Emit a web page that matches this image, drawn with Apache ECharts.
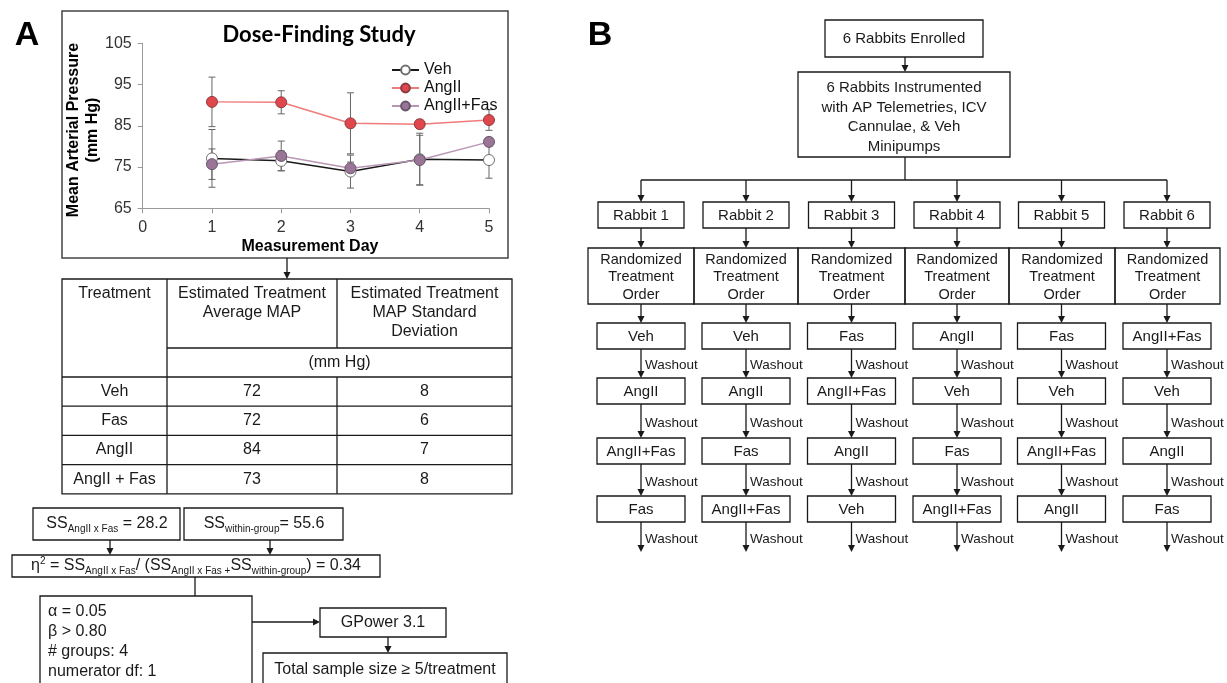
<!DOCTYPE html>
<html><head><meta charset="utf-8">
<script src="https://cdn.jsdelivr.net/npm/echarts/dist/echarts.min.js"></script>
<style>html,body{margin:0;padding:0;background:#fff}#c{width:1227px;height:683px}</style>
</head><body><div id="c"></div>
<script>
// ---------- data ----------
const days = [1, 2, 3, 4, 5];
const xTicks = [0, 1, 2, 3, 4, 5];
const yTicks = [65, 75, 85, 95, 105];
const seriesNames = ['Veh', 'AngII', 'AngII+Fas'];
const vehMean = [77.1, 76.5, 73.9, 76.9, 76.7];
const vehErr  = [7.0, 2.4, 4.0, 6.3, 4.4];
const angMean = [90.8, 90.7, 85.6, 85.4, 86.4];
const angErr  = [6.0, 2.8, 7.4, 1.0, 2.5];
const fasMean = [75.7, 77.7, 74.7, 76.7, 81.1];
const fasErr  = [3.7, 3.6, 1.5, 6.0, 1.0];

const tableTreatments = ['Veh', 'Fas', 'AngII', 'AngII + Fas'];
const tableAvgMAP = [72, 72, 84, 73];
const tableSD = [8, 6, 7, 8];

const rabbitLabels = ['Rabbit 1', 'Rabbit 2', 'Rabbit 3', 'Rabbit 4', 'Rabbit 5', 'Rabbit 6'];
const treatmentOrders = [
  ['Veh', 'AngII', 'AngII+Fas', 'Fas'],
  ['Veh', 'AngII', 'Fas', 'AngII+Fas'],
  ['Fas', 'AngII+Fas', 'AngII', 'Veh'],
  ['AngII', 'Veh', 'Fas', 'AngII+Fas'],
  ['Fas', 'Veh', 'AngII+Fas', 'AngII'],
  ['AngII+Fas', 'Veh', 'AngII', 'Fas']
];
const powerParams = ['\u03b1 = 0.05', '\u03b2 > 0.80', '# groups: 4', 'numerator df: 1'];

// ---------- drawing helpers ----------
const FONT = '"Liberation Sans", Arial, sans-serif';
const INK = '#1a1a1a';
const G = [];
function rect(x, y, w, h, lw) {
  G.push({type: 'rect', silent: true, shape: {x: x, y: y, width: w, height: h},
    style: {fill: 'none', stroke: INK, lineWidth: lw || 1.3}});
}
function line(x1, y1, x2, y2, lw) {
  G.push({type: 'line', silent: true, shape: {x1: x1, y1: y1, x2: x2, y2: y2},
    style: {stroke: INK, lineWidth: lw || 1.3}});
}
function arrowDown(x, y1, y2) {
  line(x, y1, x, y2 - 5);
  G.push({type: 'polygon', silent: true, shape: {points: [[x - 3.5, y2 - 7], [x + 3.5, y2 - 7], [x, y2]]}, style: {fill: INK}});
}
function arrowRight(x1, x2, y) {
  line(x1, y, x2 - 5, y);
  G.push({type: 'polygon', silent: true, shape: {points: [[x2 - 7, y - 3.5], [x2 - 7, y + 3.5], [x2, y]]}, style: {fill: INK}});
}
function txt(x, y, s, o) {
  const st = Object.assign({text: s, fill: INK, fontSize: 16, fontFamily: FONT,
    align: 'center', verticalAlign: 'middle', textAlign: 'center', textVerticalAlign: 'middle'}, o || {});
  G.push({type: 'text', silent: true, x: x, y: y, style: st, z: 10});
}

// ---------- panel letters ----------
txt(27, 36, 'A', {fontSize: 34, fontWeight: 'bold', fill: '#000'});
txt(600, 36, 'B', {fontSize: 34, fontWeight: 'bold', fill: '#000'});

// ---------- Panel A chart frame & texts ----------
G.push({type: 'rect', silent: true, shape: {x: 62, y: 11, width: 446, height: 247},
  style: {fill: 'none', stroke: '#444', lineWidth: 1.5}});
txt(319, 35, 'Dose-Finding Study', {fontSize: 22, fontWeight: 'bold', fontFamily: 'Lato, "Liberation Sans", sans-serif', fill: '#000'});
txt(74, 130, 'Mean Arterial Pressure', {fontSize: 16, fontWeight: 'bold', fill: '#000'});
G[G.length - 1].rotation = Math.PI / 2;
txt(93, 130, '(mm Hg)', {fontSize: 16, fontWeight: 'bold', fill: '#000'});
G[G.length - 1].rotation = Math.PI / 2;
txt(310, 247, 'Measurement Day', {fontSize: 16, fontWeight: 'bold', fill: '#000'});
arrowDown(287, 258, 279);

// ---------- table ----------
const tX = [62, 167, 337, 512];
const tTop = 279, tHead = 348, tUnit = 377, rowH = 29.2;
const tBottom = tUnit + rowH * tableTreatments.length;
rect(tX[0], tTop, tX[3] - tX[0], tBottom - tTop);
line(tX[1], tTop, tX[1], tBottom);
line(tX[2], tTop, tX[2], tHead);
line(tX[2], tUnit, tX[2], tBottom);
line(tX[1], tHead, tX[3], tHead);
for (let i = 0; i < tableTreatments.length; i++) {
  line(tX[0], tUnit + rowH * i, tX[3], tUnit + rowH * i);
}
txt((tX[0] + tX[1]) / 2, 294, 'Treatment');
txt((tX[1] + tX[2]) / 2, 303.5, 'Estimated Treatment\nAverage MAP', {lineHeight: 19});
txt((tX[2] + tX[3]) / 2, 313, 'Estimated Treatment\nMAP Standard\nDeviation', {lineHeight: 19});
txt((tX[1] + tX[3]) / 2, 363, '(mm Hg)');
tableTreatments.forEach(function (t, i) {
  const cy = tUnit + rowH * i + rowH / 2;
  txt((tX[0] + tX[1]) / 2, cy, t);
  txt((tX[1] + tX[2]) / 2, cy, String(tableAvgMAP[i]));
  txt((tX[2] + tX[3]) / 2, cy, String(tableSD[i]));
});

// ---------- power analysis flow ----------
const richBase = {
  n: {fontSize: 16, lineHeight: 20, fontFamily: FONT, fill: INK, color: INK},
  s: {fontSize: 10, lineHeight: 11, fontFamily: FONT, fill: INK, color: INK, verticalAlign: 'bottom'},
  p: {fontSize: 10, lineHeight: 11, fontFamily: FONT, fill: INK, color: INK, verticalAlign: 'top'}
};
rect(33, 508, 147, 32);
txt(107, 524, '{n|SS}{s|AngII x Fas}{n| = 28.2}', {rich: richBase});
rect(184, 508, 159, 32);
txt(264, 524, '{n|SS}{s|within-group}{n|= 55.6}', {rich: richBase});
arrowDown(110, 540, 555);
arrowDown(270, 540, 555);
rect(12, 555, 368, 22);
txt(196, 566, '{n|\u03b7}{p|2}{n| = SS}{s|AngII x Fas}{n|/ (SS}{s|AngII x Fas +}{n|SS}{s|within-group}{n|) = 0.34}', {rich: richBase});
line(195, 577, 195, 596);
rect(40, 596, 212, 110);
powerParams.forEach(function (p, i) {
  txt(48, 612 + i * 19.7, p, {align: 'left', textAlign: 'left'});
});
arrowRight(252, 320, 622);
rect(320, 608, 126, 29);
txt(383, 622.5, 'GPower 3.1');
arrowDown(388, 637, 653);
rect(263, 653, 244, 50);
txt(385, 670, 'Total sample size \u2265 5/treatment');

// ---------- Panel B flowchart ----------
const colX = [641, 746, 851.5, 957, 1061.5, 1167];
rect(825, 20, 158, 37);
txt(904, 38.5, '6 Rabbits Enrolled', {fontSize: 15});
arrowDown(905, 57, 72);
rect(798, 72, 212, 85);
txt(904, 117.5, '6 Rabbits Instrumented\nwith AP Telemetries, ICV\nCannulae, & Veh\nMinipumps', {fontSize: 15, lineHeight: 19.5});
line(905, 157, 905, 180);
line(colX[0], 180, colX[5], 180);
const rndEdges = [588, 694, 798, 905, 1009, 1115, 1220];
colX.forEach(function (cx, i) {
  arrowDown(cx, 180, 202);
  rect(cx - 43, 202, 86, 26);
  txt(cx, 215.5, rabbitLabels[i], {fontSize: 15});
  arrowDown(cx, 228, 248);
  rect(rndEdges[i], 248, rndEdges[i + 1] - rndEdges[i], 56);
  txt((rndEdges[i] + rndEdges[i + 1]) / 2, 277, 'Randomized\nTreatment\nOrder', {fontSize: 14.5, lineHeight: 17.5});
  arrowDown(cx, 304, 323);
  const tops = [323, 378, 438, 496];
  treatmentOrders[i].forEach(function (t, j) {
    rect(cx - 44, tops[j], 88, 26);
    txt(cx, tops[j] + 13.5, t, {fontSize: 15});
    const y1 = tops[j] + 26;
    const y2 = j < 3 ? tops[j + 1] : 552;
    arrowDown(cx, y1, y2);
    txt(cx + 4, (y1 + y2) / 2 + 2, 'Washout', {fontSize: 13.5, align: 'left', textAlign: 'left'});
  });
});

// ---------- chart ----------
function errSeries(name, mean, err) {
  return {
    type: 'custom', name: name + ' err', silent: true, z: 1,
    renderItem: function (params, api) {
      const x = api.value(0), m = api.value(1), e = api.value(2);
      const top = api.coord([x, m + e]), bot = api.coord([x, m - e]);
      const w = 3.5, st = {stroke: '#666', lineWidth: 1};
      return {type: 'group', children: [
        {type: 'line', shape: {x1: top[0], y1: top[1], x2: bot[0], y2: bot[1]}, style: st},
        {type: 'line', shape: {x1: top[0] - w, y1: top[1], x2: top[0] + w, y2: top[1]}, style: st},
        {type: 'line', shape: {x1: bot[0] - w, y1: bot[1], x2: bot[0] + w, y2: bot[1]}, style: st}
      ]};
    },
    encode: {x: 0, y: 1},
    data: days.map(function (d, i) { return [d, mean[i], err[i]]; })
  };
}
function lineSeries(name, mean, fill, border, lc) {
  return {
    name: name, type: 'line', z: 3, symbol: 'circle', symbolSize: 11,
    itemStyle: {color: fill, borderColor: border, borderWidth: 1},
    lineStyle: {color: lc, width: 1.5},
    data: days.map(function (d, i) { return [d, mean[i]]; })
  };
}

const chart = echarts.init(document.getElementById('c'));
chart.setOption({
  animation: false,
  textStyle: {fontFamily: FONT},
  grid: {left: 142.7, right: 1227 - 489, top: 43.3, bottom: 683 - 208.3, containLabel: false, outerBoundsMode: 'none'},
  xAxis: {
    type: 'value', min: xTicks[0], max: xTicks[xTicks.length - 1], interval: 1,
    axisLine: {show: true, onZero: false, lineStyle: {color: '#999'}},
    axisTick: {show: true, length: 5, lineStyle: {color: '#999'}},
    axisLabel: {fontSize: 16, color: '#333', margin: 11},
    splitLine: {show: false}
  },
  yAxis: {
    type: 'value', min: yTicks[0], max: yTicks[yTicks.length - 1], interval: 10,
    axisLine: {show: true, lineStyle: {color: '#999'}},
    axisTick: {show: true, length: 5, lineStyle: {color: '#999'}},
    axisLabel: {fontSize: 16, color: '#333', margin: 11},
    splitLine: {show: false}
  },
  legend: {
    data: seriesNames, orient: 'vertical', left: 386, top: 57,
    itemWidth: 27, itemHeight: 11, itemGap: 2,
    textStyle: {fontSize: 16, color: '#111', fontFamily: FONT}
  },
  series: [
    errSeries('Veh', vehMean, vehErr),
    errSeries('AngII', angMean, angErr),
    errSeries('AngII+Fas', fasMean, fasErr),
    lineSeries('Veh', vehMean, '#ffffff', '#6e6e6e', '#1a1a1a'),
    lineSeries('AngII', angMean, '#e0474c', '#8a3d40', '#f07b7b'),
    lineSeries('AngII+Fas', fasMean, '#9a7598', '#665566', '#b996b6')
  ],
  graphic: {elements: G}
});
</script>
</body></html>
